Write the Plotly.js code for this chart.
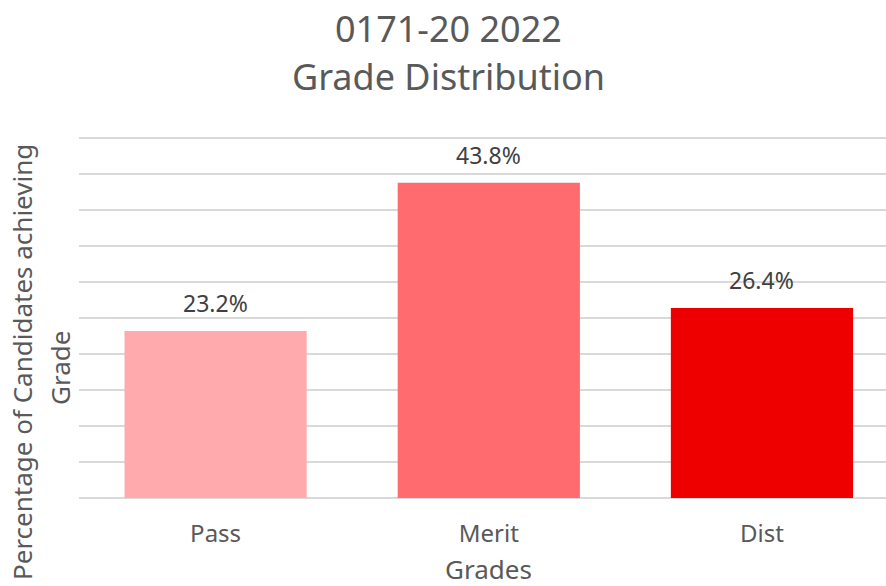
<!DOCTYPE html>
<html>
<head>
<meta charset="utf-8">
<script src="https://cdn.plot.ly/plotly-3.0.1.min.js"></script>
<style>html,body{margin:0;padding:0;background:#fff;}#chart{width:886px;height:586px;}</style>
</head>
<body>
<div id="chart"></div>
<script>
const categories = ["Pass", "Merit", "Dist"];
const percentages = [23.2, 43.8, 26.4];
const barColors = ["#FFABAE", "#FF6B6E", "#EE0000"];
const titleLines = ["0171-20 2022", "Grade Distribution"];
const xTitle = "Grades";
const yTitleLines = ["Percentage of Candidates achieving", "Grade"];

const FONT = "Noto Sans, Open Sans, sans-serif";
const GREY = "#595959";

// pixel helpers for the fixed 886x586 canvas (plot: x 79..886, y 136..498)
const L = 79, T = 136, W = 807, H = 362;
const px = v => (v - L) / W;
const py = v => (T + H - v) / H;

const trace = {
  type: "bar",
  x: categories,
  y: percentages,
  marker: {color: barColors, line: {width: 0}},
  hoverinfo: "skip"
};

const labelAnnotations = categories.map((c, i) => ({
  x: c, y: percentages[i], xref: "x", yref: "y",
  text: percentages[i].toFixed(1) + "%",
  showarrow: false, yanchor: "middle", yshift: 28,
  font: {family: FONT, size: 23, color: "#404040"}
}));

const textAnnotations = [
  {x: px(448), y: py(28), text: titleLines[0], size: 36},
  {x: px(448), y: py(77), text: titleLines[1], size: 36},
  {x: px(488), y: py(569), text: xTitle, size: 26},
  {x: px(22), y: py(362), text: yTitleLines[0], size: 26, angle: -90},
  {x: px(60), y: py(368), text: yTitleLines[1], size: 26, angle: -90}
].map(a => ({
  xref: "paper", yref: "paper", x: a.x, y: a.y,
  xanchor: "center", yanchor: "middle", showarrow: false,
  textangle: a.angle || 0, text: a.text,
  font: {family: FONT, size: a.size, color: GREY}
}));

const layout = {
  width: 886, height: 586,
  margin: {l: L, r: 0, t: T, b: 586 - T - H},
  paper_bgcolor: "#fff", plot_bgcolor: "#fff",
  showlegend: false,
  bargap: 0.333,
  xaxis: {
    type: "category",
    range: [-0.5, 2.454],
    showgrid: false, zeroline: false, showline: false,
    ticks: "", ticklabelstandoff: 19,
    tickfont: {family: FONT, size: 24, color: GREY}
  },
  yaxis: {
    range: [0, 362 / 7.2], dtick: 5, tick0: 0,
    showticklabels: false, ticks: "",
    showgrid: true, gridcolor: "#D9D9D9", gridwidth: 1.5,
    zeroline: true, zerolinecolor: "#D9D9D9", zerolinewidth: 1.5,
    showline: false
  },
  annotations: labelAnnotations.concat(textAnnotations)
};

Plotly.newPlot("chart", [trace], layout, {staticPlot: true, displayModeBar: false});
</script>
</body>
</html>
